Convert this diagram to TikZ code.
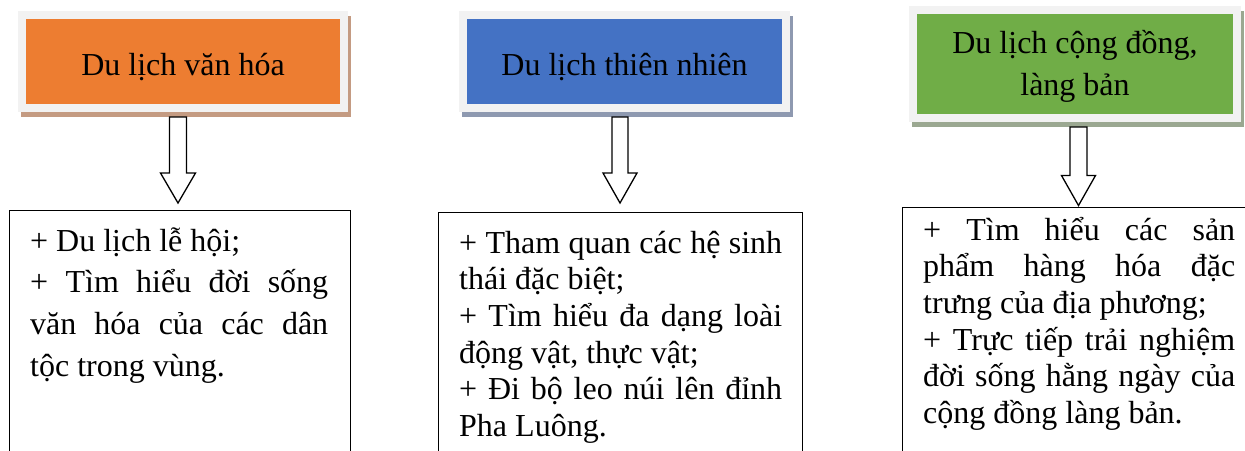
\documentclass[tikz,border=0pt]{standalone}
\usepackage{fontspec}
\setmainfont{Liberation Serif}
\usetikzlibrary{calc,backgrounds}
\definecolor{cOrange}{HTML}{ED7D31}
\definecolor{cBlue}{HTML}{4472C4}
\definecolor{cGreen}{HTML}{70AD47}
\definecolor{frameGray}{HTML}{F2F2F2}
\definecolor{shOrange}{HTML}{C49B82}
\definecolor{shBlue}{HTML}{8E99B0}
\definecolor{shGreen}{HTML}{9BA891}
\tikzset{
  titlebox/.style={draw=frameGray, line width=8pt, inner sep=0pt,
    text height=36pt, text depth=8pt, font=\fontsize{32}{42}\selectfont},
  bodybox/.style={draw=black, line width=1.3pt, fill=white, inner sep=0pt},
  bodytext/.style={anchor=base west, inner sep=0pt, align=flush left},
  blockarrow/.style={draw=black, line width=1.3pt, fill=white, line join=miter},
}
\newcommand\myblockarrow[4]{% top coord, tip coord, shaft half, head half
  \draw[blockarrow] ($(#1)+(-#3,0)$) -- ($(#2)+(-#3,-30)$) -- ($(#2)+(-#4,-30)$)
    -- (#2) -- ($(#2)+(#4,-30)$) -- ($(#2)+(#3,-30)$) -- ($(#1)+(#3,0)$) -- cycle;}
\newcommand\jline[2]{\leavevmode\hbox to #1{\spaceskip=0.25em plus 1fil\relax #2}}
\begin{document}
\begin{tikzpicture}[x=1pt,y=-1pt]
\useasboundingbox (0,0) rectangle (1245,450);
\clip (0,0) rectangle (1245,450);

% title boxes
\node[titlebox, fill=cOrange, minimum width=322, minimum height=93] (t1) at (183,61.5) {Du lịch văn hóa};
\node[titlebox, fill=cBlue, minimum width=323, minimum height=93] (t2) at (624.5,61.5) {Du lịch thiên nhiên};
\node[titlebox, fill=cGreen, minimum width=324, minimum height=108, text width=316, align=flush center,
      text height=28pt, text depth=50pt] (t3) at (1075,64) {Du lịch cộng đồng,\\ làng bản};

\begin{pgfonlayer}{background}
  \fill[white] (0,0) rectangle (1245,450);
  \fill[shOrange] ([shift={(3,5)}]t1.north west) rectangle ([shift={(3,5)}]t1.south east);
  \fill[shBlue] ([shift={(3,5)}]t2.north west) rectangle ([shift={(3,5)}]t2.south east);
  \fill[shGreen] ([shift={(3,5)}]t3.north west) rectangle ([shift={(3,5)}]t3.south east);
\end{pgfonlayer}

% body boxes
\node[bodybox, anchor=north west, minimum width=341, minimum height=270] (b1) at (9,210) {};
\node[bodybox, anchor=north west, minimum width=364, minimum height=270] (b2) at (438,212) {};
\node[bodybox, anchor=north west, minimum width=360, minimum height=270] (b3) at (902,207) {};

% arrows
\coordinate (a1top) at (178,117);
\coordinate (a1tip) at (178,203);
\coordinate (a2top) at (620,117);
\coordinate (a2tip) at (620,203);
\coordinate (a3top) at (1078.5,127);
\coordinate (a3tip) at (1078.5,205.5);
\myblockarrow{a1top}{a1tip}{8.5}{17.5}
\myblockarrow{a2top}{a2tip}{8}{17}
\myblockarrow{a3top}{a3tip}{8.5}{17}

% body texts
\node[bodytext, text width=300, font=\fontsize{32}{41.7}\selectfont] (x1) at (30,251)
  {+ Du lịch lễ hội;\\
   \jline{298pt}{+ Tìm hiểu đời sống}\\
   \jline{298pt}{văn hóa của các dân}\\
   tộc trong vùng.};
\node[bodytext, text width=330, font=\fontsize{32}{36.7}\selectfont] (x2) at (459,253)
  {\jline{323pt}{+ Tham quan các hệ sinh}\\
   thái đặc biệt;\\
   \jline{323pt}{+ Tìm hiểu đa dạng loài}\\
   động vật, thực vật;\\
   \jline{323pt}{+ Đi bộ leo núi lên đỉnh}\\
   Pha Luông.};
\node[bodytext, text width=318, font=\fontsize{32}{36.7}\selectfont] (x3) at (923,240)
  {\jline{312pt}{+ Tìm hiểu các sản}\\
   \jline{312pt}{phẩm hàng hóa đặc}\\
   trưng của địa phương;\\
   \jline{312pt}{+ Trực tiếp trải nghiệm}\\
   \jline{312pt}{đời sống hằng ngày của}\\
   cộng đồng làng bản.};
\end{tikzpicture}
\end{document}
